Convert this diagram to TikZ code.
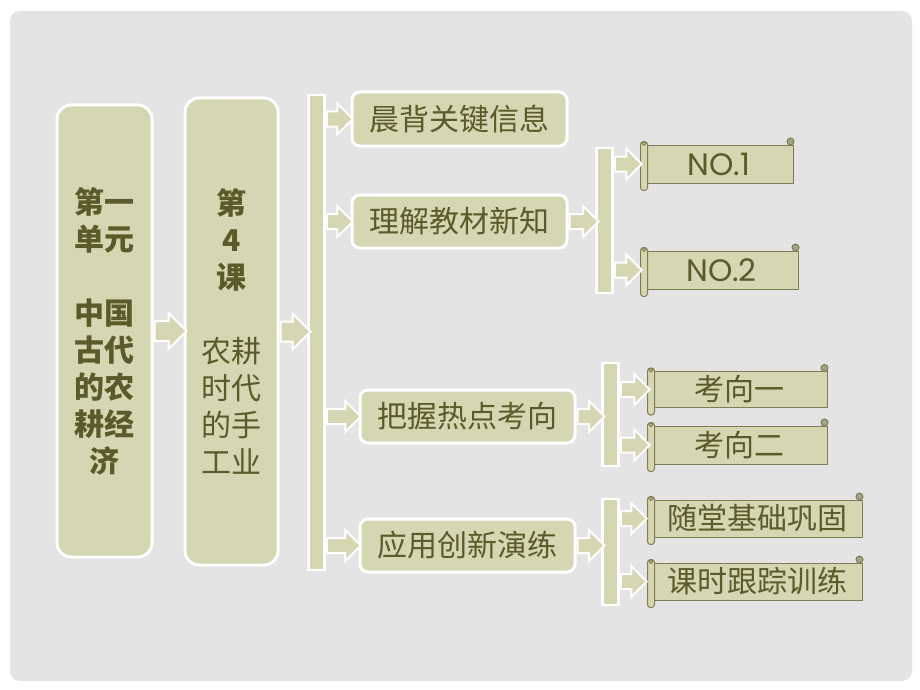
\documentclass[tikz,border=0pt]{standalone}
\usepackage{fontspec}
\setmainfont{Noto Sans CJK SC}
\newfontfamily\latinfont{Poppins}
\usetikzlibrary{shapes.arrows,positioning,calc}
\definecolor{olivefill}{HTML}{D5D6B2}
\definecolor{olivetext}{HTML}{5A5A2A}
\definecolor{oliveline}{HTML}{7E7E52}
\definecolor{curlgray}{HTML}{A3A38A}
\definecolor{panelgray}{HTML}{E4E4E4}
\newcommand{\scrollends}[1]{%
  \draw[scrollroll, rounded corners=3pt] ($(#1.north west)+(-4,-3)$) rectangle ($(#1.south west)+(3,7)$);
  \draw[scrollroll] ($(#1.north west)+(-0.5,-1)$) circle (1.8pt);
  \draw[scrollroll, fill=curlgray] ($(#1.north east)+(-3,-3)$) circle (3.5pt);
}
\begin{document}
\begin{tikzpicture}[x=1pt,y=-1pt,
    mainbox/.style={rounded corners=8pt, fill=olivefill, draw=white, line width=3pt,
      text=olivetext, inner sep=0pt, align=center, font=\fontsize{30}{37}\selectfont},
    sidebar/.style={fill=olivefill, draw=white, line width=2.5pt, minimum width=16pt, inner sep=0pt},
    blkarrow/.style={single arrow, fill=olivefill, draw=white, line width=2pt, inner xsep=0pt,
      inner ysep=6.5pt, single arrow head extend=8pt, minimum height=#1, anchor=tail},
    scroll/.style={fill=olivefill, draw=oliveline, line width=1pt, text=olivetext,
      inner sep=0pt, font=\fontsize{30}{34}\selectfont},
    scrollroll/.style={fill=olivefill, draw=oliveline, line width=1pt}
]
\fill[white] (0,0) rectangle (920,690);
\fill[panelgray, rounded corners=10pt] (10,11) rectangle (912,681);

% left column
\node[mainbox, rounded corners=14pt, minimum width=95pt, minimum height=452pt,
  font=\fontsize{30}{37}\selectfont\bfseries] (unit) at (104.5,331)
  {第一\\单元\\[37pt]中国\\古代\\的农\\耕经\\济};
\node[mainbox, rounded corners=14pt, minimum width=93pt, minimum height=467pt] (lesson) at (231.5,331.5)
  {\bfseries 第\\\bfseries 4\\\bfseries 课\\[37pt]农耕\\时代\\的手\\工业};
\node[sidebar, minimum height=475pt] (bar) at (316.5,332.5) {};

% sections
\node[mainbox, minimum width=215pt, minimum height=54pt] (recite) at (459.5,119) {晨背关键信息};
\node[mainbox, minimum width=215pt, minimum height=53pt] (learn) at (459.5,221.5) {理解教材新知};
\node[mainbox, minimum width=215pt, minimum height=53pt] (grasp) at (467.5,416.5) {把握热点考向};
\node[mainbox, minimum width=215pt, minimum height=53pt] (apply) at (467.5,545.5) {应用创新演练};

\node[sidebar, minimum height=145pt] (learnbar) at (604.5,220.5) {};
\node[sidebar, minimum height=103pt] (graspbar) at (610.5,414.5) {};
\node[sidebar, minimum height=106pt] (applybar) at (610.5,552) {};

% scrolls
\node[scroll, minimum width=148pt, minimum height=38pt, font=\latinfont\fontsize{31}{34}\selectfont] (no1) at (719,164) {NO.1};
\node[scroll, minimum width=153pt, minimum height=38pt, font=\latinfont\fontsize{31}{34}\selectfont] (no2) at (721.5,270) {NO.2};
\node[scroll, minimum width=175pt, minimum height=36pt] (dir1) at (739.5,389.5) {考向一};
\node[scroll, minimum width=175pt, minimum height=38pt] (dir2) at (739.5,445) {考向二};
\node[scroll, minimum width=210pt, minimum height=37pt] (drill) at (757,518.5) {随堂基础巩固};
\node[scroll, minimum width=210pt, minimum height=37pt] (track) at (757,581.5) {课时跟踪训练};
\foreach \s in {no1,no2,dir1,dir2,drill,track} {\scrollends{\s}}

% arrows
\node[blkarrow=32, inner ysep=9pt, single arrow head extend=8pt] (unit2lesson) at (unit.east) {};
\node[blkarrow=30, inner ysep=9pt, single arrow head extend=8pt] (lesson2bar) at (lesson.east) {};
\node[blkarrow=26] (bar2recite) at (bar.east |- recite.west) {};
\node[blkarrow=26] (bar2learn) at (bar.east |- learn.west) {};
\node[blkarrow=34] (bar2grasp) at (bar.east |- grasp.west) {};
\node[blkarrow=34] (bar2apply) at (bar.east |- apply.west) {};
\node[blkarrow=29] (learn2bar) at (learn.east) {};
\node[blkarrow=27] (grasp2bar) at (grasp.east) {};
\node[blkarrow=27] (apply2bar) at (apply.east) {};
\node[blkarrow=27] (bar2no1) at (learnbar.east |- no1.west) {};
\node[blkarrow=27] (bar2no2) at (learnbar.east |- no2.west) {};
\node[blkarrow=29] (bar2dir1) at (graspbar.east |- dir1.west) {};
\node[blkarrow=29] (bar2dir2) at (graspbar.east |- dir2.west) {};
\node[blkarrow=26] (bar2drill) at (applybar.east |- drill.west) {};
\node[blkarrow=26] (bar2track) at (applybar.east |- track.west) {};
\end{tikzpicture}
\end{document}
